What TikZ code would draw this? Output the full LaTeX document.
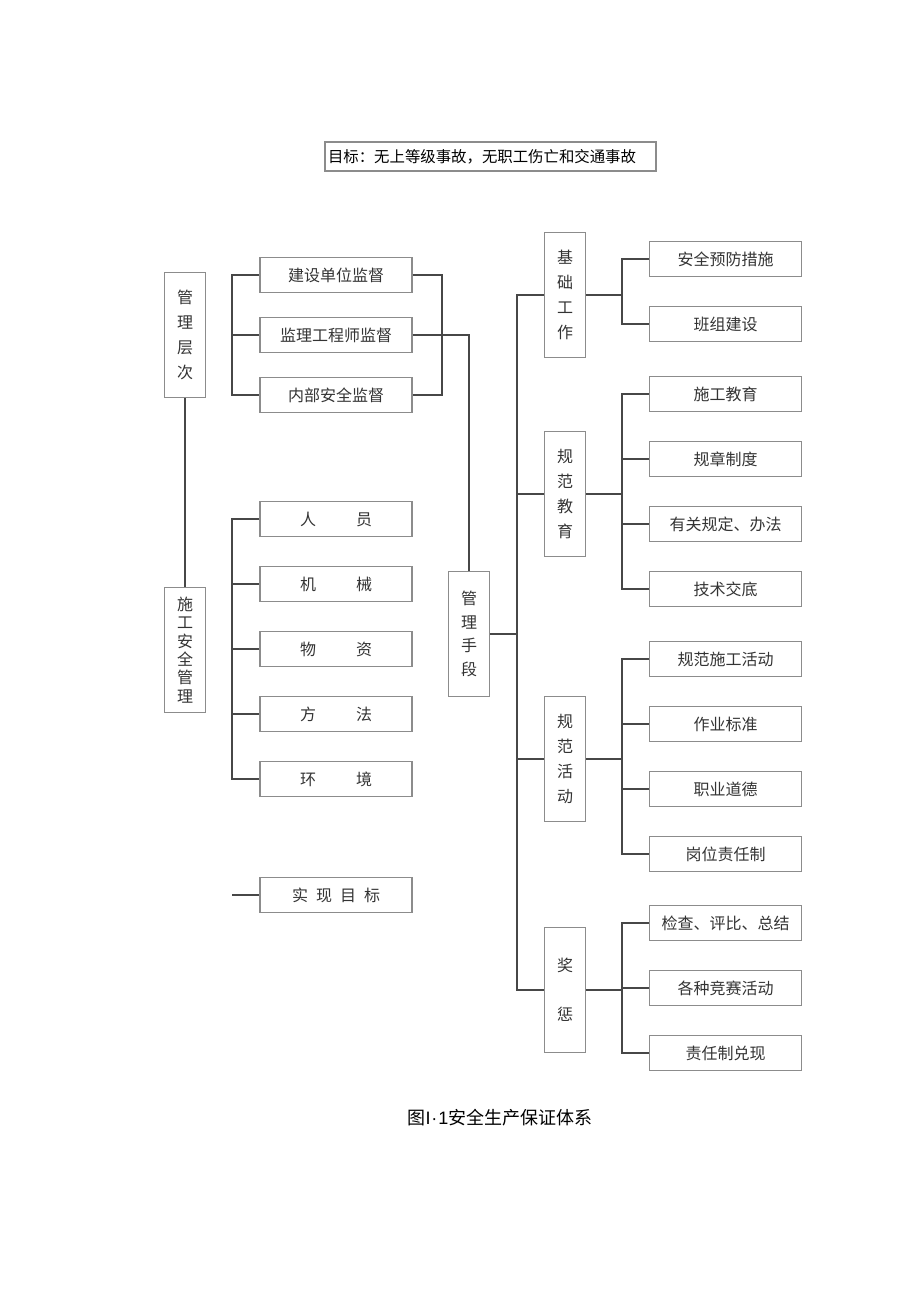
\documentclass[tikz,border=0pt]{standalone}
\usepackage{fontspec}
\setmainfont{Noto Sans CJK SC}
\newfontfamily\latinfont{Liberation Sans}
\definecolor{boxgray}{HTML}{8C8C8C}
\definecolor{linegray}{HTML}{474747}
\definecolor{txtgray}{HTML}{333333}
\tikzset{
    itembox/.style={draw=boxgray, line width=0.7pt, minimum width=76pt, minimum height=17.5pt,
        inner sep=0pt, text=txtgray, font=\fontsize{8}{10}\selectfont},
    tallbox/.style={draw=boxgray, line width=0.7pt, minimum width=20.5pt, minimum height=62.5pt,
        inner sep=0pt, align=center, text=txtgray, font=\fontsize{8}{12.5}\selectfont},
    link/.style={draw=linegray, line width=0.9pt},
}
\begin{document}
\begin{tikzpicture}[x=0.5pt, y=-0.5pt]
        \useasboundingbox (0,0) rectangle (920,1301);
        % title and caption
        \node[draw=boxgray, line width=0.7pt, minimum height=14.5pt, inner xsep=1.5pt, inner ysep=0pt,
            text width=162.5pt, align=left, font=\fontsize{7.7}{9}\selectfont] (goal) at (490.5,156.5)
            {目标：无上等级事故，无职工伤亡和交通事故};
        \node[font=\fontsize{9}{11}\selectfont] (caption) at (500,1118)
            {图{\latinfont I\kern0.5pt·\kern0.5pt1}安全生产保证体系};
        % left column
        \node[tallbox] (glcc) at (185,335) {管\\理\\层\\次};
        \node[tallbox, font=\fontsize{8}{9.2}\selectfont] (sgaq) at (185,650) {施\\工\\安\\全\\管\\理};
        \node[itembox] (jsdw) at (336,275) {建设单位监督};
        \node[itembox] (jlgc) at (336,335) {监理工程师监督};
        \node[itembox] (nbaq) at (336,395) {内部安全监督};
        \node[itembox] (ry)   at (336,519) {人\hspace{20pt}员};
        \node[itembox] (jx)   at (336,584) {机\hspace{20pt}械};
        \node[itembox] (wz)   at (336,649) {物\hspace{20pt}资};
        \node[itembox] (ff)   at (336,714) {方\hspace{20pt}法};
        \node[itembox] (hj)   at (336,779) {环\hspace{20pt}境};
        \node[itembox] (sxmb) at (336,895) {实\hspace{4pt}现\hspace{4pt}目\hspace{4pt}标};
        % middle column
        \node[tallbox, font=\fontsize{8}{11.7}\selectfont] (glsd) at (469,634) {管\\理\\手\\段};
        \coordinate (bus) at (518,0);
        \node[tallbox] (jcgz) at (565,295) {基\\础\\工\\作};
        \node[tallbox] (gfjy) at (565,494) {规\\范\\教\\育};
        \node[tallbox] (gfhd) at (565,759) {规\\范\\活\\动};
        \node[tallbox, font=\fontsize{8}{24.5}\selectfont] (jc) at (565,990) {奖\\惩};
        % right column
        \node[itembox] (aqyf) at (725.5,259) {安全预防措施};
        \node[itembox] (bzjs) at (725.5,324) {班组建设};
        \node[itembox] (sgjy) at (725.5,394) {施工教育};
        \node[itembox] (gzzd) at (725.5,459) {规章制度};
        \node[itembox] (ygd)  at (725.5,524) {有关规定、办法};
        \node[itembox] (jsjd) at (725.5,589) {技术交底};
        \node[itembox] (gfsg) at (725.5,659) {规范施工活动};
        \node[itembox] (zybz) at (725.5,724) {作业标准};
        \node[itembox] (zydd) at (725.5,789) {职业道德};
        \node[itembox] (gwzr) at (725.5,854) {岗位责任制};
        \node[itembox] (jcpb) at (725.5,923) {检查、评比、总结};
        \node[itembox] (gzjs) at (725.5,988) {各种竞赛活动};
        \node[itembox] (zrdx) at (725.5,1053) {责任制兑现};
        % connectors
        \draw[link] (glcc.south) -- (sgaq.north);
        \draw[link] (jsdw.west) -- ++(-27,0) |- (nbaq.west);
        \draw[link] (jlgc.west) -- ++(-27,0);
        \draw[link] (jsdw.east) -- ++(29,0) |- (nbaq.east);
        \draw[link] (jlgc.east) -| (glsd.north);
        \draw[link] (ry.west) -- ++(-27,0) |- (hj.west);
        \foreach \n in {jx, wz, ff, sxmb}
            \draw[link] (\n.west) -- ++(-27,0);
        \draw[link] (glsd.east) -- (glsd.east -| bus);
        \draw[link] (jcgz.west) -- ++(-27,0) |- (jc.west);
        \foreach \n in {gfjy, gfhd}
            \draw[link] (\n.west) -- ++(-27,0);
        \foreach \n in {jcgz, gfjy, gfhd, jc}
            \draw[link] (\n.east) -- ++(37,0);
        \foreach \a/\b in {aqyf/bzjs, sgjy/jsjd, gfsg/gwzr, jcpb/zrdx}
            \draw[link] (\a.west) -- ++(-27,0) |- (\b.west);
        \foreach \n in {gzzd, ygd, zybz, zydd, gzjs}
            \draw[link] (\n.west) -- ++(-27,0);
\end{tikzpicture}
\end{document}
